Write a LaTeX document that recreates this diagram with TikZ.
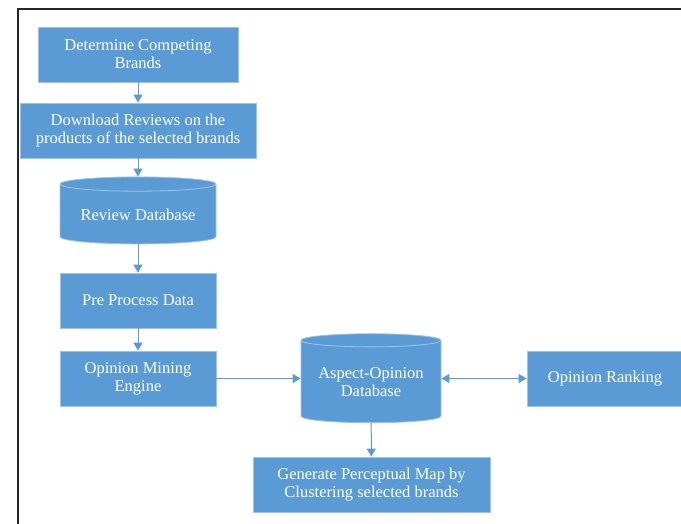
\documentclass[tikz,border=0pt]{standalone}
\usepackage{fontspec}
\setmainfont{Liberation Serif}
\usetikzlibrary{shapes.geometric, arrows.meta}

\definecolor{boxblue}{HTML}{5B9BD5}
\definecolor{edgeblue}{HTML}{9DC3E6}

\begin{document}
\begin{tikzpicture}[x=1pt, y=-1pt]
\tikzset{ >={Triangle[length=8pt,width=9pt]},
  stepbox/.style={fill=boxblue, draw=edgeblue, line width=0.8pt, text=white,
    align=center, inner sep=2pt, font=\fontsize{16.5}{18}\selectfont},
  dbase/.style={stepbox, cylinder, shape border rotate=90, aspect=0.12},
  flow/.style={->, boxblue, line width=1pt},
}

\useasboundingbox (0,0) rectangle (681,524);

% frame
\draw [line width=2pt, black!85] (18,524) -- (18,9) -- (681,9);

\node [stepbox, minimum width=200pt, minimum height=55pt] (B) at (138,54.5)  {Determine Competing\\Brands};
\node [stepbox, minimum width=236pt, minimum height=55pt] (D) at (138,130.5) {Download Reviews on the\\products of the selected brands};
\node [dbase, minimum width=156pt, minimum height=67pt]   (R) at (138,215) {Review Database};
\node [stepbox, minimum width=156pt, minimum height=55pt] (P) at (138,300.5) {Pre Process Data};
\node [stepbox, minimum width=156pt, minimum height=55pt] (M) at (138,378.5) {Opinion Mining\\Engine};
\node [dbase, minimum width=140pt, minimum height=89pt]   (A) at (371,382.5) {Aspect-Opinion\\Database};
\node [stepbox, minimum width=156pt, minimum height=55pt] (O) at (605,378.5) {Opinion Ranking};
\node [stepbox, minimum width=237pt, minimum height=55pt] (G) at (371.5,484.5) {Generate Perceptual Map by\\Clustering selected brands};

\draw [flow] (B) -- (D);
\draw [flow] (D) -- (R);
\draw [flow] (R) -- (P);
\draw [flow] (P) -- (M);
\draw [flow] (M) -- (A.west |- M);
\draw [flow, <->] (A.east |- O) -- (O);
\draw [flow] (A) -- (G);

\end{tikzpicture}
\end{document}
